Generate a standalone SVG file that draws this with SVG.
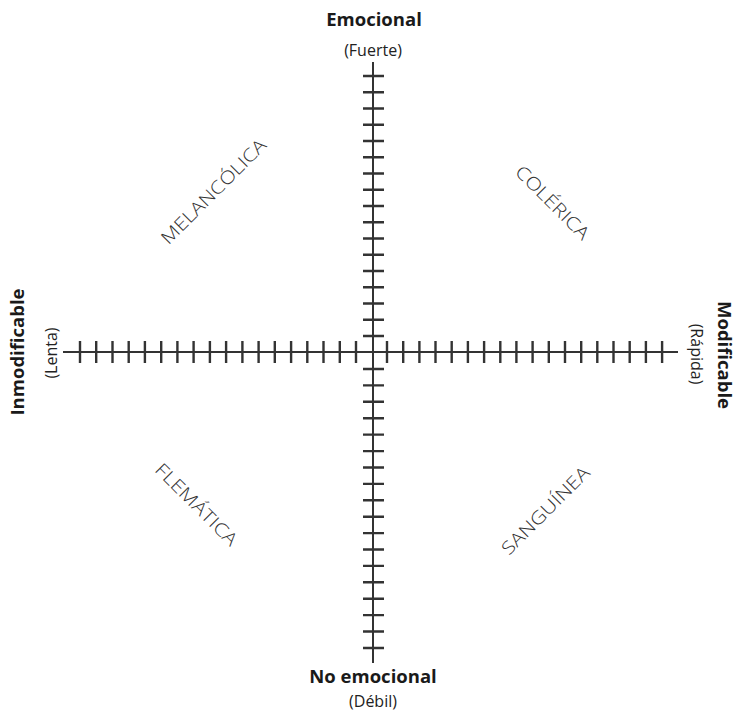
<svg xmlns="http://www.w3.org/2000/svg" width="737" height="721" viewBox="0 0 737 721">
<style>
.axis{stroke:#333;stroke-width:2;fill:none}
.tick{stroke:#333;stroke-width:2.4;fill:none}
.pole{font-family:"Open Sans","Noto Sans",sans-serif;font-weight:700;font-size:18.5px;fill:#1a1a1a;text-anchor:middle}
.sub{font-family:"Open Sans","Noto Sans",sans-serif;font-weight:400;font-size:16px;fill:#222;text-anchor:middle}
.quad{font-family:"Open Sans","Noto Sans",sans-serif;font-weight:300;font-size:18px;fill:#333;text-anchor:middle}
</style>
<rect width="737" height="721" fill="#fff"/>
<g id="connectors">
<path class="axis" d="M63 352H678M373 62V663"/>
<path class="tick" d="M80 341v22M96.2 341v22M112.5 341v22M128.7 341v22M144.9 341v22M161.2 341v22M177.4 341v22M193.6 341v22M209.9 341v22M226.1 341v22M242.4 341v22M258.6 341v22M274.8 341v22M291.1 341v22M307.3 341v22M323.5 341v22M339.8 341v22M356 341v22"/>
<path class="tick" d="M387 341v22M403.2 341v22M419.4 341v22M435.5 341v22M451.7 341v22M467.9 341v22M484.1 341v22M500.3 341v22M516.4 341v22M532.6 341v22M548.8 341v22M565 341v22M581.2 341v22M597.3 341v22M613.5 341v22M629.7 341v22M645.9 341v22M662.1 341v22"/>
<path class="tick" d="M363 76h21M363 92.3h21M363 108.5h21M363 124.8h21M363 141h21M363 157.3h21M363 173.5h21M363 189.8h21M363 206h21M363 222.3h21M363 238.5h21M363 254.8h21M363 271h21M363 287.3h21M363 303.5h21M363 319.8h21M363 336h21"/>
<path class="tick" d="M363 369h21M363 385.4h21M363 401.8h21M363 418.2h21M363 434.6h21M363 451.1h21M363 467.5h21M363 483.9h21M363 500.3h21M363 516.7h21M363 533.1h21M363 549.5h21M363 565.9h21M363 582.3h21M363 598.7h21M363 615.1h21M363 631.5h21M363 648h21"/>
</g>
<g id="top">
<text class="pole" x="374" y="26">Emocional</text>
<text class="sub" x="373" y="56">(Fuerte)</text>
</g>
<g id="bottom">
<text class="pole" x="373" y="683">No emocional</text>
<text class="sub" x="373" y="707">(Débil)</text>
</g>
<g id="left">
<text class="pole" transform="translate(24 352) rotate(-90)">Inmodificable</text>
<text class="sub" transform="translate(57 353) rotate(-90)">(Lenta)</text>
</g>
<g id="right">
<text class="pole" transform="translate(718 355) rotate(90)">Modificable</text>
<text class="sub" transform="translate(691 354) rotate(90)">(Rápida)</text>
</g>
<g id="melancolica"><text class="quad" transform="translate(218 196) rotate(-45)" textLength="140" lengthAdjust="spacingAndGlyphs">MELANCÓLICA</text></g>
<g id="colerica"><text class="quad" transform="translate(548 207) rotate(45)" textLength="96" lengthAdjust="spacingAndGlyphs">COLÉRICA</text></g>
<g id="flematica"><text class="quad" transform="translate(192 509) rotate(45)" textLength="108" lengthAdjust="spacingAndGlyphs">FLEMÁTICA</text></g>
<g id="sanguinea"><text class="quad" transform="translate(550 515) rotate(-45)" textLength="116" lengthAdjust="spacingAndGlyphs">SANGUÍNEA</text></g>
</svg>
